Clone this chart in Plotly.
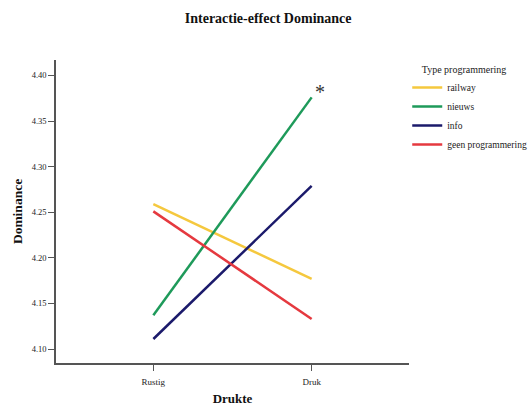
import plotly.graph_objects as go

categories = ["Rustig", "Druk"]
series_names = ["railway", "nieuws", "info", "geen programmering"]
railway = [4.259, 4.177]
nieuws = [4.137, 4.376]
info = [4.111, 4.279]
geen = [4.251, 4.133]
colors = ["#F5C83E", "#1E9A5A", "#1B1A6B", "#E5393F"]
y_ticks = [4.10, 4.15, 4.20, 4.25, 4.30, 4.35, 4.40]

FONT = "Liberation Serif"
fig = go.Figure()
for name, vals, col in zip(series_names, [railway, nieuws, info, geen], colors):
    fig.add_trace(go.Scatter(x=[0, 1], y=vals, mode="lines", name=name,
                             line=dict(color=col, width=2.5)))

fig.add_annotation(x=1, y=nieuws[1], text="*", showarrow=False,
                   xshift=8, yshift=-8, yanchor="bottom",
                   font=dict(family=FONT, size=20, color="#333"))

fig.update_layout(
    width=531, height=406,
    margin=dict(l=56, r=122, t=60, b=43, autoexpand=False),
    paper_bgcolor="white", plot_bgcolor="white",
    font=dict(family=FONT, color="#222"),
    title=dict(text="<b>Interactie-effect Dominance</b>", x=0.505, xanchor="center",
               y=0.955, yanchor="middle", font=dict(size=14, family=FONT, color="#111")),
    showlegend=True,
    legend=dict(x=0.995, xanchor="left", y=1.0, yanchor="top",
                title=dict(text="&nbsp;&nbsp;&nbsp;&nbsp;&nbsp;Type programmering",
                           font=dict(size=10, family=FONT, color="#222")),
                font=dict(size=9.5, family=FONT, color="#222"), tracegroupgap=0,
                itemwidth=30, bgcolor="rgba(0,0,0,0)"),
    xaxis=dict(range=[-0.615, 1.615], tickvals=[0, 1], ticktext=categories,
               showgrid=False, zeroline=False, showline=True, linecolor="#555",
               linewidth=1.5, ticks="outside", ticklen=6, tickcolor="#555",
               ticklabelstandoff=3,
               tickfont=dict(size=9, family=FONT, color="#222"), automargin=False,
               title=dict(text="<b>Drukte</b>", font=dict(size=13, family=FONT, color="#111"),
                          standoff=8)),
    yaxis=dict(range=[4.0847, 4.417], tickvals=y_ticks,
               ticktext=[f"{v:.2f}" for v in y_ticks],
               showgrid=False, zeroline=False, showline=True, linecolor="#555",
               linewidth=1.5, ticks="outside", ticklen=6, tickcolor="#555",
               tickfont=dict(size=8.5, family=FONT, color="#222"), automargin=False,
               title=dict(text="<b>Dominance</b>", font=dict(size=13.5, family=FONT, color="#111"),
                          standoff=6)),
)

fig.write_html("out.html", config={"displayModeBar": False},
               post_script="document.body.style.margin='0';")
